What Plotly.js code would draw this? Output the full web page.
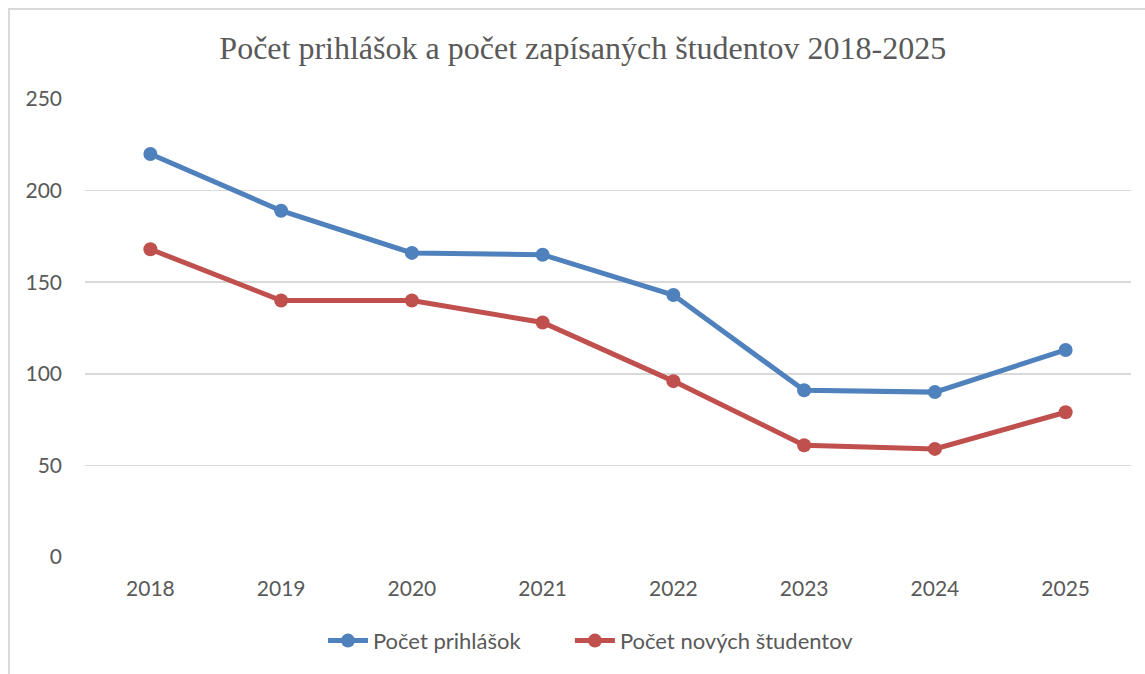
<!DOCTYPE html>
<html>
<head>
<meta charset="utf-8">
<script src="https://cdn.plot.ly/plotly-3.0.1.min.js"></script>
<style>html,body{margin:0;padding:0;background:#fff;}#chart{width:1145px;height:674px;}</style>
</head>
<body>
<div id="chart"></div>
<script>
const years = ['2018','2019','2020','2021','2022','2023','2024','2025'];
const prihlasky = [220, 189, 166, 165, 143, 91, 90, 113];
const noviStudenti = [168, 140, 140, 128, 96, 61, 59, 79];
const seriesNames = ['Počet prihlášok', 'Počet nových študentov'];
const titleText = 'Počet prihlášok a počet zapísaných študentov 2018-2025';

const traces = [
  {x: years, y: prihlasky, name: seriesNames[0], type: 'scatter', mode: 'lines+markers', legend: 'legend',
   line: {color: '#4f81bd', width: 5}, marker: {color: '#4f81bd', size: 14}},
  {x: years, y: noviStudenti, name: seriesNames[1], type: 'scatter', mode: 'lines+markers', legend: 'legend2',
   line: {color: '#c0504d', width: 5}, marker: {color: '#c0504d', size: 14}}
];

const legendFont = {family: 'Lato, sans-serif', size: 22, color: '#595959'};

const layout = {
  width: 1145, height: 674,
  margin: {l: 85, r: 14, t: 99, b: 117},
  paper_bgcolor: '#ffffff', plot_bgcolor: '#ffffff',
  showlegend: true,
  title: {text: titleText, x: 0.509, xanchor: 'center', y: 0.929, yanchor: 'middle', yref: 'container',
    font: {family: 'Liberation Serif, Times New Roman, serif', size: 32, color: '#595959'}},
  xaxis: {type: 'category', range: [-0.5, 7.5], showgrid: false, zeroline: false, showline: false,
    ticks: '', ticklabelstandoff: 17,
    tickfont: {family: 'Lato, sans-serif', size: 21, color: '#595959'}},
  yaxis: {range: [0, 250], dtick: 50, showgrid: true, gridcolor: '#d9d9d9', gridwidth: 1.5,
    zeroline: false, showline: false, ticks: '', ticklabelstandoff: 22,
    tickfont: {family: 'Lato, sans-serif', size: 21, color: '#595959'}},
  legend: {orientation: 'h', x: 0.2275, xanchor: 'left', y: -0.183, yanchor: 'middle',
    font: legendFont, itemwidth: 40},
  legend2: {orientation: 'h', x: 0.4636, xanchor: 'left', y: -0.183, yanchor: 'middle',
    font: legendFont, itemwidth: 40},
  shapes: [{type: 'rect', xref: 'paper', yref: 'paper', x0: -0.0727, x1: 1.05, y0: -0.3, y1: 1.1965,
    line: {color: '#d9d9d9', width: 2}, layer: 'below'}]
};

Plotly.newPlot('chart', traces, layout, {displayModeBar: false, staticPlot: true});
</script>
</body>
</html>
